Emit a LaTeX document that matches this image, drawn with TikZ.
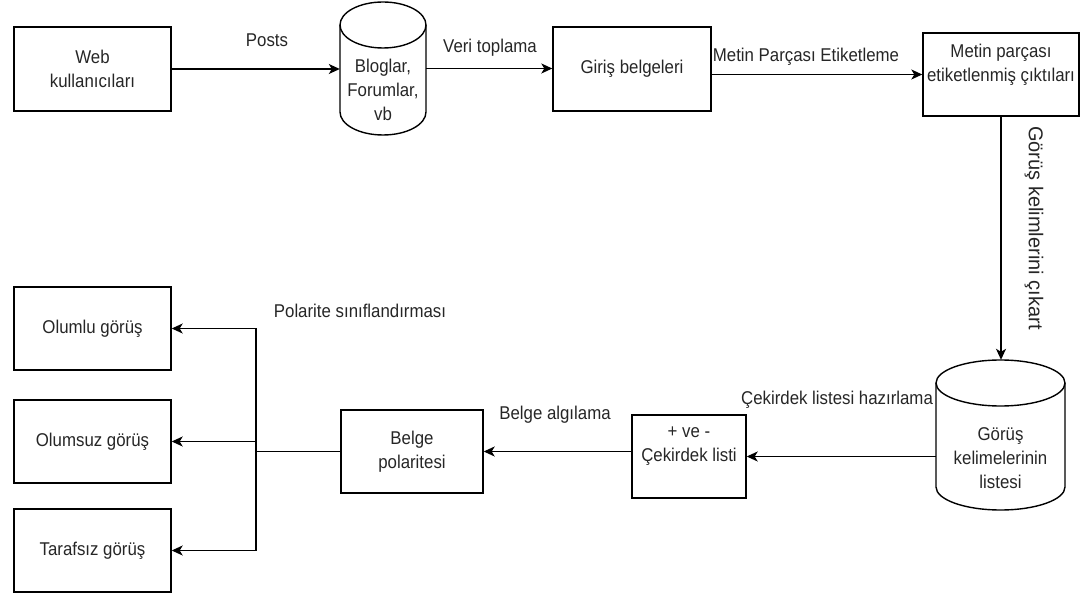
\documentclass[tikz,border=0pt]{standalone}
\usepackage{fontspec}
\setmainfont{Liberation Sans}[FakeStretch=0.91]
\newfontfamily\rotfont{Liberation Sans}
\usetikzlibrary{arrows.meta}
\definecolor{txt}{HTML}{262626}
\begin{document}
\begin{tikzpicture}[x=1pt,y=-1pt,
  every node/.style={font=\fontsize{18.5}{24}\selectfont, text=txt},
  box/.style={draw=black, line width=1.4pt, inner sep=0pt, align=center},
  cyl/.style={draw=none, inner sep=0pt},
  lbl/.style={inner sep=0pt, align=center},
  line/.style={draw=black, line width=1.4pt},
  conn/.style={line, -{Stealth[length=11pt,width=10pt,inset=3pt]}}]
\useasboundingbox (0,0) rectangle (1089,593);

% boxes
\node[box, minimum width=157pt, minimum height=84pt] (web) at (92.5,69) {Web\\kullanıcıları};
\node[box, minimum width=158pt, minimum height=84pt] (giris) at (632,69) {Giriş belgeleri};
\node[box, minimum width=156pt, minimum height=83pt] (metin) at (1001,74.5) {Metin parçası\\etiketlenmiş çıktıları\\\mbox{}};
\node[box, minimum width=157pt, minimum height=83pt] (olumlu) at (92.5,328.5) {Olumlu görüş};
\node[box, minimum width=157pt, minimum height=83pt] (olumsuz) at (92.5,441.5) {Olumsuz görüş};
\node[box, minimum width=157pt, minimum height=83pt] (taraf) at (92.5,550.5) {Tarafsız görüş};
\node[box, minimum width=142pt, minimum height=83pt] (belge) at (412,451.5) {Belge\\polaritesi};
\node[box, minimum width=114pt, minimum height=83pt] (cek) at (689,456.5) {+ ve -\\Çekirdek listi\\\mbox{}};

% cylinders
\node[cyl, minimum width=86pt, minimum height=133pt] (blog) at (383,68.5) {};
\draw[line] (383,25) ellipse[x radius=43, y radius=23];
\draw[line] (340,25) -- (340,112) arc[start angle=180, end angle=0, x radius=43, y radius=23] -- (426,25);
\node[lbl] (blogt) at (383,90) {Bloglar,\\Forumlar,\\vb};

\node[cyl, minimum width=129pt, minimum height=150pt] (gorus) at (1000.5,435) {};
\draw[line] (1000.5,383) ellipse[x radius=64.5, y radius=23];
\draw[line] (936,383) -- (936,487) arc[start angle=180, end angle=0, x radius=64.5, y radius=23] -- (1065,383);
\node[lbl] (gorust) at (1000.5,458) {Görüş\\kelimelerinin\\listesi};

% connectors
\draw[conn] (web.east) -- (web.east -| blog.west);
\node[lbl] (l1) at (267,40) {Posts};
\draw[conn] (blog.east) -- (blog.east -| giris.west);
\node[lbl] (l2) at (490,48) {Veri toplama};
\draw[conn] (metin.west -| giris.east) -- (metin.west);
\node[lbl] (l3) at (806,57) {Metin Parçası Etiketleme};
\draw[conn] (metin.south) -- (metin.south |- gorus.north);
\node[lbl, rotate=-90, font=\rotfont\fontsize{20}{24}\selectfont] (l4) at (1034,228) {Görüş kelimlerini çıkart};
\draw[conn] (gorus.west |- cek.east) -- (cek.east);
\node[lbl] (l5) at (837,400) {Çekirdek listesi hazırlama};
\draw[conn] (cek.west |- belge.east) -- (belge.east);
\node[lbl] (l6) at (555,415) {Belge algılama};

\coordinate (j) at (256,451.5);
\draw[line] (belge.west) -- (j);
\draw[line] (j |- olumlu.east) -- (j |- taraf.east);
\draw[conn] (j |- olumlu.east) -- (olumlu.east);
\draw[conn] (j |- olumsuz.east) -- (olumsuz.east);
\draw[conn] (j |- taraf.east) -- (taraf.east);
\node[lbl] (l7) at (360,311) {Polarite sınıflandırması};
\end{tikzpicture}
\end{document}
